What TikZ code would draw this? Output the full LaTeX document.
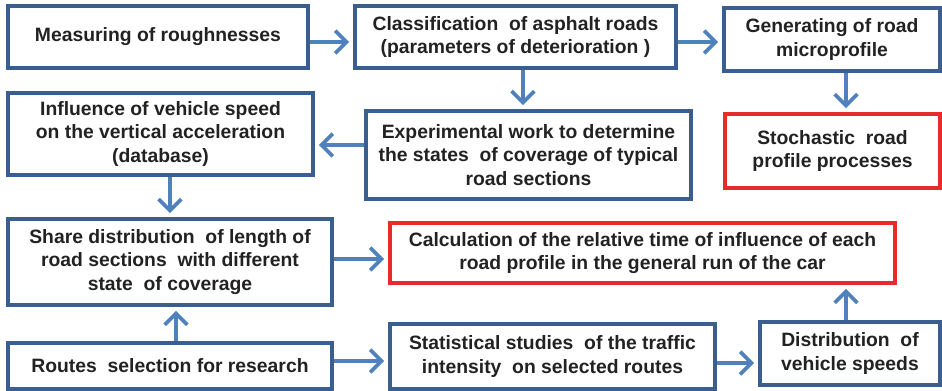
\documentclass[tikz,border=0pt]{standalone}
\usepackage{fontspec}
\setmainfont{Liberation Sans}
\usepackage{tikz}
\usetikzlibrary{arrows.meta}
\definecolor{edge}{HTML}{3A5F8E}
\definecolor{flow}{HTML}{4F81BD}
\definecolor{alert}{HTML}{E52B2B}
\definecolor{ink}{HTML}{222222}
\tikzset{
  box/.style={draw=edge, line width=2.9pt, fill=white, align=center, inner sep=2pt,
    text=ink, font=\fontsize{14.5}{17.6}\selectfont\bfseries},
  redbox/.style={box, draw=alert},
  arr/.style={draw=flow, line width=2.8pt, shorten >=3pt,
    -{Straight Barb[length=8.5pt,width=17pt,line width=2.8pt]}},
}

\begin{document}
\begin{tikzpicture}[x=0.75pt,y=-0.75pt]
  \useasboundingbox (0,0) rectangle (942,391);
  % top row
  \node[box, minimum width=225pt, minimum height=46.5pt] (meas) at (158,37) {Measuring of roughnesses};
  \node[box, minimum width=240.75pt, minimum height=46.5pt] (class) at (515.5,37) {Classification\ \ of asphalt roads\\(parameters of deterioration )};
  \node[box, minimum width=162pt, minimum height=47.25pt] (gen) at (832,39.5) {Generating of road\\microprofile};
  % second row
  \node[box, minimum width=228.75pt, minimum height=61.5pt] (infl) at (160.5,134) {Influence of vehicle speed\\on the vertical acceleration\\(database)};
  \node[box, minimum width=243.75pt, minimum height=66pt] (exper) at (528.5,155) {Experimental work to determine\\the states\ \ of coverage of typical\\road sections};
  \node[redbox, minimum width=161.25pt, minimum height=55.5pt] (stoch) at (832.5,151) {Stochastic\ \ road\\profile processes};
  % third row
  \node[box, minimum width=243pt, minimum height=64.5pt] (share) at (170,262) {Share distribution\ \ of length of\\road sections\ \ with different\\state\ \ of coverage};
  \node[redbox, minimum width=378.75pt, minimum height=45pt] (calc) at (642.5,253) {Calculation of the relative time of influence of each\\road profile in the general run of the car};
  % bottom row
  \node[box, minimum width=243pt, minimum height=34.5pt] (route) at (170,366) {Routes\ \ selection for research};
  \node[box, minimum width=243.75pt, minimum height=48.75pt] (stat) at (552.5,356.5) {Statistical studies\ \ of the traffic\\intensity\ \ on selected routes};
  \node[box, minimum width=135pt, minimum height=47.25pt] (dist) at (850,353.5) {Distribution\ \ of\\vehicle speeds};
  % connectors
  \draw[arr] ([yshift=-3.75pt]meas.east) -- ([yshift=-3.75pt]meas.east -| class.west);
  \draw[arr] ([yshift=-3.75pt]class.east) -- ([yshift=-3.75pt]class.east -| gen.west);
  \draw[arr] ([xshift=5.6pt]class.south) -- ([xshift=5.6pt]class.south |- exper.north);
  \draw[arr] ([xshift=10.5pt]gen.south) -- ([xshift=10.5pt]gen.south |- stoch.north);
  \draw[arr] ([yshift=7.5pt]exper.west) -- ([yshift=7.5pt]exper.west -| infl.east);
  \draw[arr] ([xshift=7.1pt]infl.south) -- ([xshift=7.1pt]infl.south |- share.north);
  \draw[arr] ([xshift=4.5pt]route.north) -- ([xshift=4.5pt]route.north |- share.south);
  \draw[arr] ([yshift=2.25pt]share.east) -- ([yshift=2.25pt]share.east -| calc.west);
  \draw[arr] ([yshift=3.75pt]route.east) -- ([yshift=3.75pt]route.east -| stat.west);
  \draw[arr] ([yshift=-4.9pt]stat.east) -- ([yshift=-4.9pt]stat.east -| dist.west);
  \draw[arr] ([xshift=-3pt]dist.north) -- ([xshift=-3pt]dist.north |- calc.south);
\end{tikzpicture}
\end{document}
